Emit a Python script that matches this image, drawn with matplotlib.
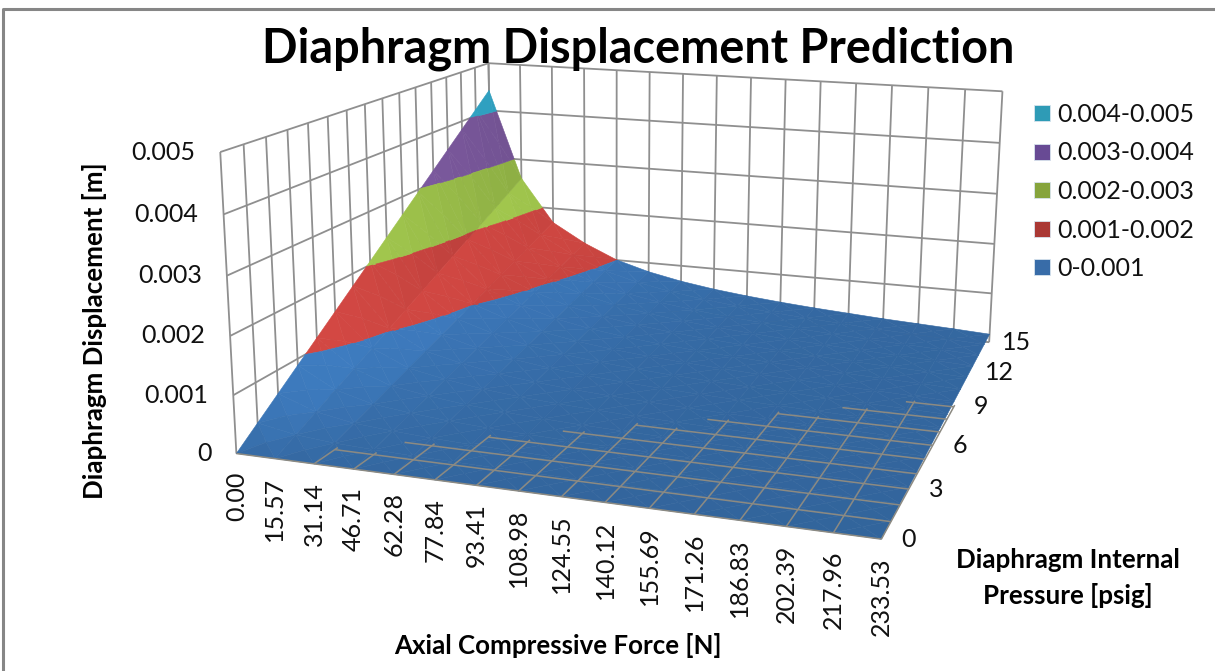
import numpy as np
import matplotlib
matplotlib.use('Agg')
import matplotlib.pyplot as plt
from matplotlib.patches import Patch
from mpl_toolkits.mplot3d.art3d import Poly3DCollection, Line3DCollection
from mpl_toolkits.mplot3d import proj3d

plt.rcParams['font.family'] = ['Lato', 'DejaVu Sans']

W, H = 1215, 671

force_labels = ['0.00', '15.57', '31.14', '46.71', '62.28', '77.84', '93.41', '108.98',
                '124.55', '140.12', '155.69', '171.26', '186.83', '202.39', '217.96', '233.53']
force = [float(s) for s in force_labels]
pressure = list(range(16))
z_ticks = [0, 0.001, 0.002, 0.003, 0.004, 0.005]
z_labels = ['0', '0.001', '0.002', '0.003', '0.004', '0.005']
band_labels = ['0-0.001', '0.001-0.002', '0.002-0.003', '0.003-0.004', '0.004-0.005']
band_colors = [(50, 100, 155), (170, 58, 54), (134, 165, 64), (108, 78, 138), (44, 148, 178)]
legend_colors = ['#386CA8', '#AA3834', '#86A43C', '#684A94', '#2E9BB6']

# displacement in micrometres, one row per psig, one column per force
disp_um = [
    [0, 0, 0, 0, 0, 0, 0, 0, 0, 0, 0, 0, 0, 0, 0, 0],
    [295, 173, 113, 87, 67, 54, 45, 38, 32, 28, 24, 21, 18, 16, 14, 11],
    [590, 346, 226, 174, 134, 108, 89, 75, 65, 56, 49, 43, 37, 32, 27, 22],
    [885, 519, 339, 261, 201, 162, 134, 113, 97, 84, 73, 64, 55, 48, 41, 33],
    [1180, 692, 452, 348, 268, 216, 179, 151, 129, 112, 97, 85, 73, 64, 55, 44],
    [1475, 865, 565, 435, 335, 270, 224, 188, 162, 140, 122, 107, 92, 80, 68, 55],
    [1770, 1038, 678, 522, 402, 324, 268, 226, 194, 168, 146, 128, 110, 96, 82, 66],
    [2065, 1211, 791, 609, 469, 378, 313, 264, 226, 196, 170, 149, 128, 112, 96, 77],
    [2360, 1384, 904, 696, 536, 432, 358, 302, 258, 224, 194, 171, 146, 128, 109, 88],
    [2655, 1557, 1017, 783, 603, 486, 402, 339, 291, 252, 219, 192, 165, 144, 123, 99],
    [2950, 1730, 1130, 870, 670, 540, 447, 377, 323, 280, 243, 213, 183, 160, 137, 110],
    [3245, 1903, 1243, 957, 737, 594, 492, 415, 355, 308, 267, 235, 201, 176, 150, 121],
    [3540, 2076, 1356, 1044, 804, 648, 536, 452, 388, 336, 292, 256, 220, 192, 164, 132],
    [3835, 2249, 1469, 1131, 871, 702, 581, 490, 420, 364, 316, 277, 238, 208, 178, 143],
    [4130, 2422, 1582, 1218, 938, 756, 626, 528, 452, 392, 340, 299, 256, 224, 191, 154],
    [4425, 2595, 1695, 1305, 1005, 810, 670, 565, 485, 420, 365, 320, 275, 240, 205, 165],
]
disp = np.array(disp_um) * 1e-6

# floor grid only shows where the surface lies on the floor:
# for psig 1, 2, ... the force index at which its line comes through
floor_start = [2.0, 3.3, 5.0, 6.5, 8.0, 9.5, 11.0, 12.4, 13.8]

fig = plt.figure(figsize=(W / 100, H / 100), dpi=100)
ax = fig.add_axes([0, 0, 1, 1], projection='3d', computed_zorder=False)
ax.set_axis_off()
ax.set_xlim(0, force[-1], view_margin=0)
ax.set_ylim(0, 15, view_margin=0)
ax.set_zlim(0, 0.005, view_margin=0)

# camera fitted once against the wall corners of the original chart
box = np.array([1.0, 0.9803, 0.4688])
ax.view_init(elev=14.2107, azim=-71.3887, roll=-0.3017)
ax.set_proj_type('persp', focal_length=0.3913)
ax.set_box_aspect(tuple(box))
M = ax.get_proj()
s, tx, ty = 4668.532, 649.481, 412.810
vl = ax.viewLim
wpx = s * (vl.x1 - vl.x0)
ax.set_position([(tx + s * vl.x0) / W, (ty + s * vl.y0) / H, wpx / W, wpx / H])


def to_box(p):
    return np.array([p[0] / force[-1] * box[0], p[1] / 15 * box[1], p[2] / 0.005 * box[2]])


def clip_z(poly, lo, hi):
    # cut a polygon down to one displacement band
    for level, keep_above in ((lo, True), (hi, False)):
        out = []
        for a, b in zip(poly, poly[1:] + poly[:1]):
            da, db = a[2] - level, b[2] - level
            ina = da >= 0 if keep_above else da <= 0
            inb = db >= 0 if keep_above else db <= 0
            if ina:
                out.append(a)
            if ina != inb:
                t = da / (da - db)
                out.append(tuple(a[c] + t * (b[c] - a[c]) for c in range(3)))
        poly = out
        if not poly:
            return []
    return poly


light = np.array([0.55, -0.35, 0.76])
light = light / np.linalg.norm(light)
verts, colors = [], []
for j in range(15):
    for i in range(15):
        c = [(force[i], pressure[j], disp[j, i]), (force[i + 1], pressure[j], disp[j, i + 1]),
             (force[i + 1], pressure[j + 1], disp[j + 1, i + 1]), (force[i], pressure[j + 1], disp[j + 1, i])]
        mid = tuple(np.mean(c, axis=0))
        for a, b in zip(c, c[1:] + c[:1]):
            nrm = np.cross(to_box(b) - to_box(a), to_box(mid) - to_box(a))
            nrm = nrm / np.linalg.norm(nrm)
            shade = np.clip(1 + 1.0 * (nrm @ light - light[2]), 1.0, 1.24)
            for k in range(5):
                poly = clip_z([a, b, mid], k * 0.001, (k + 1) * 0.001)
                if len(poly) >= 3:
                    verts.append(poly)
                    colors.append(tuple(np.clip(np.array(band_colors[k]) / 255 * shade, 0, 1)))

# walls
wall_col = '#8F8F8F'
segs = []
for zt in z_ticks:
    segs.append([(0, 0, zt), (0, 15, zt)])
    segs.append([(0, 15, zt), (force[-1], 15, zt)])
for p in pressure:
    segs.append([(0, p, 0), (0, p, 0.005)])
for f in force:
    segs.append([(f, 15, 0), (f, 15, 0.005)])
ax.add_collection3d(Line3DCollection(segs, colors=wall_col, linewidths=1.3, zorder=1), autolim=False)

ax.add_collection3d(Poly3DCollection(verts, facecolors=colors, edgecolors=colors, linewidths=0.4, zorder=2),
                    autolim=False)

# floor grid
floor_segs = []
for i, f in enumerate(force):
    top = sum(1 for st in floor_start if st <= i)
    if top > 0:
        floor_segs.append([(f, 0, 0), (f, top + 0.15, 0)])
for p, st in enumerate(floor_start, start=1):
    floor_segs.append([(np.interp(st, range(16), force), p, 0), (force[-1], p, 0)])
floor_segs.append([(0, 0, 0), (force[-1], 0, 0)])
ax.add_collection3d(Line3DCollection(floor_segs, colors='#8C8A82', linewidths=1.1, zorder=3), autolim=False)


def label_at(x, y, z, txt, dx, dy, **kw):
    px, py, _ = proj3d.proj_transform(x, y, z, M)
    ax.annotate(txt, xy=(px, py), xycoords='data', xytext=(dx, dy), textcoords='offset pixels',
                annotation_clip=False, color='#111111', fontsize=18, **kw)


for zt, lab in zip(z_ticks, z_labels):
    label_at(0, 0, zt, lab, -25, 0, ha='right', va='center')
for f, lab in zip(force, force_labels):
    label_at(f, 0, 0, lab, 0, -18, ha='center', va='top', rotation=90)
for p in pressure[::3]:
    label_at(force[-1], p, 0, str(p), 27, 0, ha='center', va='center')

fig.text(638.5 / W, 1 - 49 / H, 'Diaphragm Displacement Prediction', fontsize=33.7, fontweight='bold',
         ha='center', va='center', color='black')
fig.text(95 / W, 1 - 331 / H, 'Diaphragm Displacement [m]', fontsize=18.6, fontweight='bold',
         rotation=90, ha='center', va='center', color='black')
fig.text(558 / W, 1 - 645 / H, 'Axial Compressive Force [N]', fontsize=18.6, fontweight='bold',
         ha='center', va='center', color='black')
fig.text(1068 / W, 1 - 560 / H, 'Diaphragm Internal', fontsize=18.6, fontweight='bold',
         ha='center', va='center', color='black')
fig.text(1068 / W, 1 - 595 / H, 'Pressure [psig]', fontsize=18.6, fontweight='bold',
         ha='center', va='center', color='black')

handles = [Patch(facecolor=c, edgecolor='#D8E4EE', linewidth=0.6) for c in legend_colors[::-1]]
fig.legend(handles, band_labels[::-1], loc='upper left', bbox_to_anchor=(1034 / W, 1 - 103 / H), frameon=False,
           fontsize=18, handlelength=0.62, handleheight=0.62, handletextpad=0.3, labelspacing=0.62,
           borderpad=0, borderaxespad=0, labelcolor='#111111')

# chart area border
fig.add_artist(plt.Line2D([3 / W, 3 / W, 1], [0, 1 - 9 / H, 1 - 9 / H], color='#868686', lw=2.2))

fig.savefig('out.png', dpi=100)
